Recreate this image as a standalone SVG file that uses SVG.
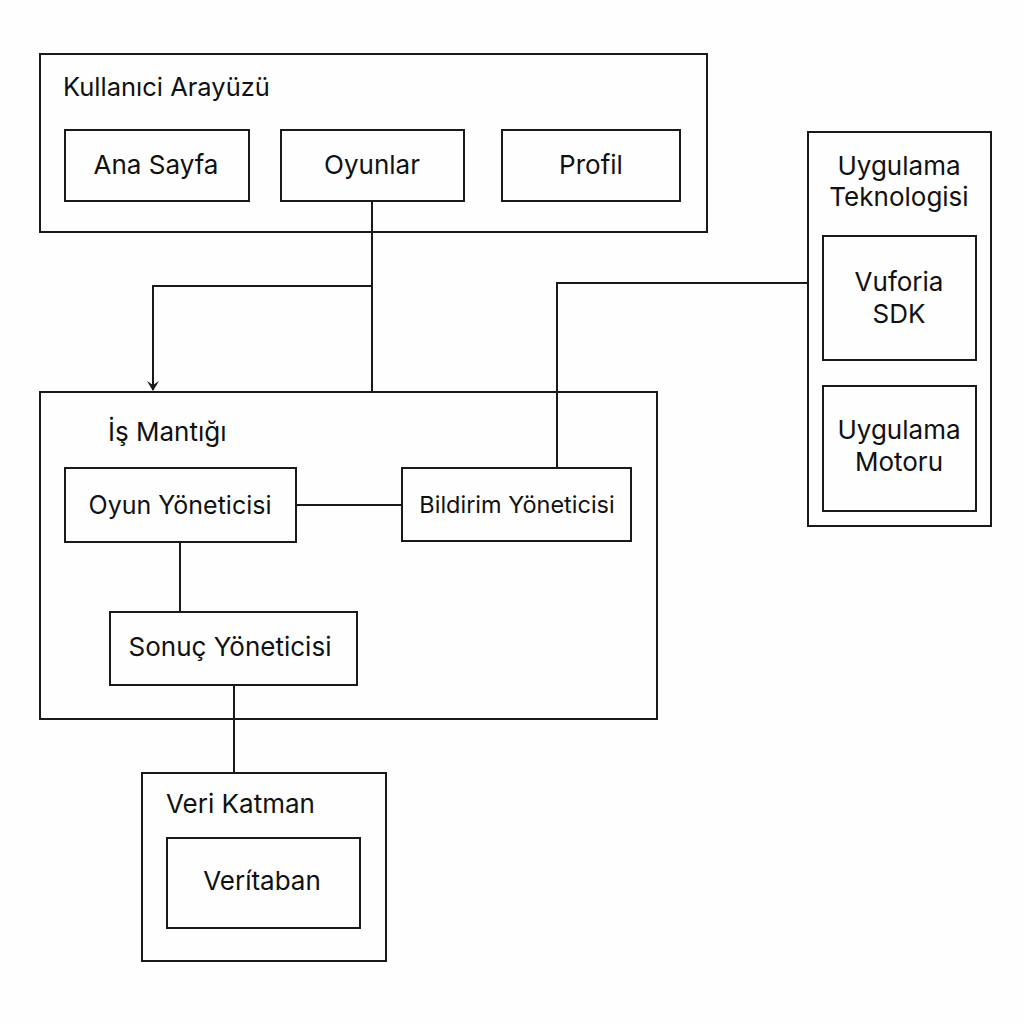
<svg xmlns="http://www.w3.org/2000/svg" width="1024" height="1024" viewBox="0 0 1024 1024">
<style>
.box{fill:none;stroke:#1a1a1a;stroke-width:2}
.t{font-family:Inter,"Noto Sans",sans-serif;font-size:26px;fill:#111}
.c{text-anchor:middle}
.ln{fill:none;stroke:#1a1a1a;stroke-width:2}
</style>
<defs>
<marker id="arr" markerWidth="12" markerHeight="12" refX="9" refY="6" orient="auto" markerUnits="userSpaceOnUse">
<path d="M0,0 L10,6 L0,12 L4,6 Z" fill="#1a1a1a"/>
</marker>
</defs>
<rect width="1024" height="1024" fill="#fefefe"/>
<g id="kullanici">
<rect class="box" x="40" y="54" width="667" height="178"/>
<text class="t" x="63" y="96" style="font-size:25.5px">Kullanıci Arayüzü</text>
</g>
<g id="anasayfa"><rect class="box" x="65" y="130" width="184" height="71"/><text class="t c" x="156" y="174">Ana Sayfa</text></g>
<g id="oyunlar"><rect class="box" x="281" y="130" width="183" height="71"/><text class="t c" x="372" y="174">Oyunlar</text></g>
<g id="profil"><rect class="box" x="502" y="130" width="178" height="71"/><text class="t c" x="591" y="174">Profil</text></g>
<g id="teknoloji">
<rect class="box" x="808" y="132" width="183" height="394"/>
<text class="t c" x="899" y="175">Uygulama</text>
<text class="t c" x="899" y="206">Teknologisi</text>
</g>
<g id="vuforia"><rect class="box" x="823" y="236" width="153" height="124"/><text class="t c" x="899" y="291">Vuforia</text><text class="t c" x="899" y="323">SDK</text></g>
<g id="motor"><rect class="box" x="823" y="386" width="153" height="125"/><text class="t c" x="899" y="439">Uygulama</text><text class="t c" x="899" y="471">Motoru</text></g>
<g id="ismantigi">
<rect class="box" x="40" y="392" width="617" height="327"/>
<text class="t" x="108" y="441">İş Mantığı</text>
</g>
<g id="oyunyon"><rect class="box" x="65" y="468" width="231" height="74"/><text class="t c" x="180" y="514" style="font-size:25px">Oyun Yöneticisi</text></g>
<g id="bildirim"><rect class="box" x="402" y="468" width="229" height="73"/><text class="t c" x="517" y="513" style="font-size:23.5px">Bildirim Yöneticisi</text></g>
<g id="sonuc"><rect class="box" x="110" y="612" width="247" height="73"/><text class="t c" x="230" y="656">Sonuç Yöneticisi</text></g>
<g id="veri">
<rect class="box" x="142" y="773" width="244" height="188"/>
<text class="t" x="166" y="813">Veri Katman</text>
</g>
<g id="veritaban"><rect class="box" x="167" y="838" width="193" height="90"/><text class="t c" x="262" y="890">Verítaban</text></g>
<g id="connectors">
<path class="ln" d="M372,201 V392"/>
<path class="ln" d="M372,286 H153 V390" marker-end="url(#arr)"/>
<path class="ln" d="M808,283 H557 V468"/>
<path class="ln" d="M296,505 H402"/>
<path class="ln" d="M180,542 V612"/>
<path class="ln" d="M234,685 V773"/>
</g>
</svg>
